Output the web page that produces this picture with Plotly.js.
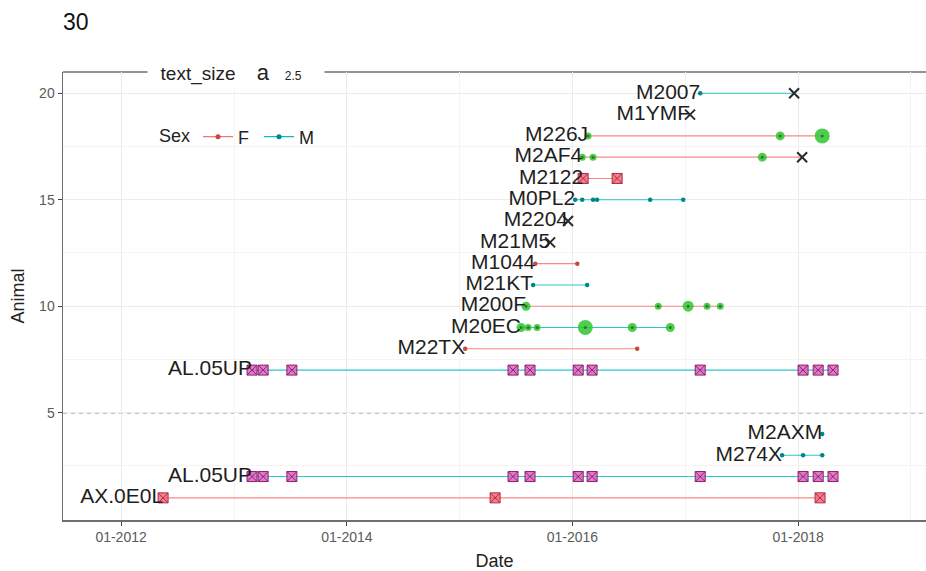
<!DOCTYPE html>
<html><head><meta charset="utf-8">
<script src="https://cdn.plot.ly/plotly-3.0.1.min.js"></script>
<style>html,body{margin:0;padding:0;background:#fff;overflow:hidden}#chart{width:926px;height:571px;display:block}</style>
</head><body><div id="chart"></div>
<script>
// ---- data ----
const animalNames = ["AX.0E0L","AL.05UP","M274X","M2AXM","AL.05UP","M22TX","M20EC","M200F","M21KT","M1044","M21M5","M2204","M0PL2","M2122","M2AF4","M226J","M1YMF","M2007"];
const animalRows  = [1,2,3,4,7,8,9,10,11,12,13,14,15,16,17,18,19,20];
const animalSex   = ["F","M","M","M","M","F","M","F","M","F","M","M","M","F","F","F","M","M"];

// small detection points
const dotRow  = [20, 15,15,15,15,15,15, 12,12, 11,11, 8,8, 4, 3,3,3];
const dotDate = ["2017-02-18",
  "2016-01-10","2016-02-02","2016-03-08","2016-03-21","2016-09-09","2016-12-25",
  "2015-09-03","2016-01-17",
  "2015-08-27","2016-02-18",
  "2015-01-19","2016-07-29",
  "2018-03-20",
  "2017-11-10","2018-01-17","2018-03-20"];

// green circles (count drives size)
const greenRow   = [18,18,18, 17,17,17, 10,10,10,10,10, 9,9,9,9,9,9];
const greenDate  = ["2016-02-21","2017-11-04","2018-03-20",
  "2016-02-02","2016-03-08","2017-09-07",
  "2015-08-04","2016-10-05","2017-01-10","2017-03-12","2017-04-24",
  "2015-07-19","2015-08-11","2015-09-09","2016-02-12","2016-07-13","2016-11-13"];
const greenCount = [1,2,5, 1,1,2, 2,1,3,1,1, 2,1,1,5,2,2];

// square-cross captures
const squareRow  = [16,16,
  7,7,7,7,7,7,7,7,7,7,7,
  2,2,2,2,2,2,2,2,2,2,2,
  1,1,1];
const squareDate = ["2016-02-05","2016-05-25",
  "2013-02-28","2013-04-05","2013-07-07","2015-06-23","2015-08-17","2016-01-20","2016-03-05","2017-02-18","2018-01-17","2018-03-07","2018-04-24",
  "2013-02-28","2013-04-05","2013-07-07","2015-06-23","2015-08-17","2016-01-20","2016-03-05","2017-02-18","2018-01-17","2018-03-07","2018-04-24",
  "2012-05-16","2015-04-26","2018-03-13"];

// X marks
const xRow  = [20,19,17,14,13];
const xDate = ["2017-12-19","2017-01-16","2018-01-14","2015-12-18","2015-10-21"];

const dividerY = [5];
const xTicks = ["2012-01-01","2014-01-01","2016-01-01","2018-01-01"];
const xMinorTicks = ["2013-01-01","2015-01-01","2017-01-01","2019-01-01"];
const yTicks = [5,10,15,20];
const yMinorTicks = [2.5,7.5,12.5,17.5];

// ---- build ----
const FONT = "Liberation Sans, Arial, sans-serif";
const sexLine = {F:"#F8766D", M:"#00BFC4"};
const sexDot  = {F:"#c8473f", M:"#00868a"};
const rowSex = {}; animalRows.forEach((r,i)=>rowSex[r]=animalSex[i]);

function span(row){
  const all = [];
  [[dotRow,dotDate],[greenRow,greenDate],[squareRow,squareDate],[xRow,xDate]].forEach(([rs,ds])=>{
    rs.forEach((r,i)=>{ if(r===row) all.push(ds[i]); });
  });
  all.sort();
  return [all[0], all[all.length-1]];
}

const traces = [];
["F","M"].forEach(s=>{
  const xs=[], ys=[];
  animalRows.forEach((r,i)=>{
    if(animalSex[i]!==s) return;
    const [a,b]=span(r);
    if(a!==b){ xs.push(a,b,null); ys.push(r,r,null); }
  });
  traces.push({x:xs,y:ys,mode:"lines",line:{color:sexLine[s],width:1.1},opacity:0.85,showlegend:false,hoverinfo:"skip"});
});

traces.push({x:greenDate,y:greenRow,mode:"markers",showlegend:false,hoverinfo:"skip",
  marker:{symbol:"circle",size:greenCount.map(c=>5+2*c),color:"#2fc52f",opacity:0.85,line:{width:0}}});
traces.push({x:greenDate,y:greenRow,mode:"markers",showlegend:false,hoverinfo:"skip",
  marker:{symbol:"circle",size:3,color:"#2a7a2a"}});

const sqF = squareRow.map(r=>rowSex[r]);
traces.push({x:squareDate,y:squareRow,mode:"markers",showlegend:false,hoverinfo:"skip",
  marker:{symbol:"square-x",size:10,
    color:sqF.map(s=>s==="F"?"rgba(240,95,115,0.8)":"rgba(222,90,185,0.8)"),
    line:{width:1,color:sqF.map(s=>s==="F"?"#b02a40":"#8a1f70")}}});

traces.push({x:dotDate,y:dotRow,mode:"markers",showlegend:false,hoverinfo:"skip",
  marker:{symbol:"circle",size:4.5,color:dotRow.map(r=>sexDot[rowSex[r]])}});

traces.push({x:xDate,y:xRow,mode:"markers",showlegend:false,hoverinfo:"skip",
  marker:{symbol:"x-thin-open",size:10,line:{width:2,color:"#2b2b2b"},color:"#2b2b2b"}});

traces.push({x:animalRows.map(r=>span(r)[0]),y:animalRows,text:animalNames,mode:"text",
  textposition:"middle left",textfont:{family:FONT,size:21,color:"#1e1e1e"},showlegend:false,hoverinfo:"skip"});

["F","M"].forEach(s=>{
  traces.push({x:[null],y:[null],mode:"lines+markers",name:s==="F"?"F&nbsp;":"M",line:{color:sexLine[s],width:1.2},
    marker:{size:5,color:sexDot[s]}});
});

const borderColor = "#6e6e6e";
const layout = {
  width:926,height:571,
  margin:{l:63,r:0,t:72,b:51},
  paper_bgcolor:"#fff",plot_bgcolor:"#fff",
  font:{family:FONT,color:"#222"},
  title:{text:"30",font:{size:23,color:"#111"},xref:"container",x:63/926,xanchor:"left",yref:"container",y:1-22/571,yanchor:"middle"},
  xaxis:{type:"date",range:["2011-06-27","2019-02-19"],tickvals:xTicks,tickformat:"%m-%Y",
    ticks:"outside",ticklen:4,tickcolor:"#444",tickfont:{size:14,color:"#5a5a5a"},
    showgrid:true,gridcolor:"#ebebeb",gridwidth:1,
    minor:{tickvals:xMinorTicks,ticks:"",showgrid:true,gridcolor:"#f4f4f4",gridwidth:1},
    showline:true,mirror:false,linecolor:borderColor,linewidth:1.5,zeroline:false,automargin:false,
    title:{text:"Date",font:{size:18,color:"#222"},standoff:10}},
  yaxis:{range:[-0.04,21.0],tickvals:yTicks,ticks:"outside",ticklen:4,tickcolor:"#444",tickfont:{size:14,color:"#5a5a5a"},
    showgrid:true,gridcolor:"#ebebeb",gridwidth:1,
    minor:{tickvals:yMinorTicks,ticks:"",showgrid:true,gridcolor:"#f4f4f4",gridwidth:1},
    showline:true,mirror:false,linecolor:borderColor,linewidth:1.5,zeroline:false,automargin:false,
    title:{text:"Animal",font:{size:18,color:"#222"},standoff:10}},
  shapes:dividerY.map(v=>({type:"line",xref:"paper",x0:0,x1:1,yref:"y",y0:v,y1:v,layer:"below",
    line:{color:"#8a8a8a",width:1.5,dash:"4px,4px"}})).concat([
    {type:"line",xref:"paper",yref:"paper",x0:0,x1:1,y0:1,y1:1,layer:"below",line:{color:borderColor,width:1.5}}]),
  legend:{orientation:"h",x:(157-63)/863,xanchor:"left",y:1-(137-72)/448,yanchor:"middle",
    title:{text:"Sex",side:"left",font:{size:18,color:"#222"}},font:{size:18,color:"#222"},
    bgcolor:"rgba(0,0,0,0)",itemwidth:30},
  annotations:[{xref:"paper",yref:"paper",x:(147-63)/863,y:1,xanchor:"left",yanchor:"middle",showarrow:false,
    text:"&nbsp;&nbsp;text_size&nbsp;&nbsp;&nbsp;&nbsp;<span style='font-size:22px'>a</span>&nbsp;&nbsp;&nbsp;<span style='font-size:12px'>2.5</span>",
    font:{size:19,color:"#222"},bgcolor:"#ffffff",width:172,align:"left",borderpad:2}]
};

Plotly.newPlot("chart",traces,layout,{displayModeBar:false,staticPlot:true});
</script></body></html>
